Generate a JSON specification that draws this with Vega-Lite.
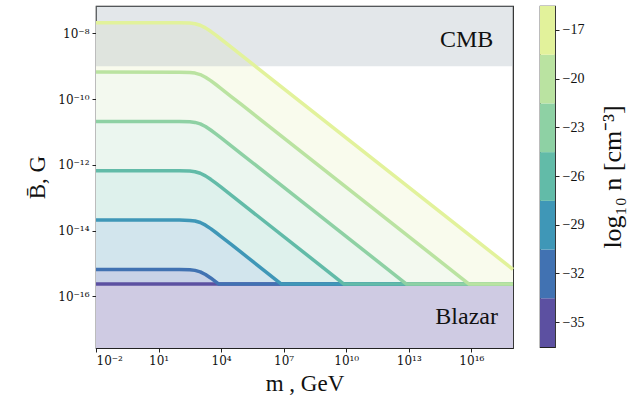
{
  "$schema": "https://vega.github.io/schema/vega-lite/v6.json",
  "padding": {"left": 26, "top": 5, "right": 5, "bottom": 5},
  "background": "white",
  "config": {
    "font": "Liberation Serif",
    "view": {"stroke": "#222", "strokeWidth": 1.2},
    "axis": {
      "grid": false, "domain": false, "tickColor": "#222", "tickSize": 4, "tickWidth": 1,
      "labelColor": "#111", "titleColor": "#111", "labelFontSize": 12, "titleFontSize": 23,
      "titleFontWeight": "normal", "labelFont": "DejaVu Serif", "titleFont": "Liberation Serif", "labelPadding": 3
    }
  },
  "datasets": {
    "regions": [
      {"region": "CMB", "m": 0.01, "m2": 1e18, "B": 1e-9, "B2": 6.76e-8},
      {"region": "Blazar", "m": 0.01, "m2": 1e18, "B": 2.69e-18, "B2": 2.371e-16}
    ],
    "labels": [
      {"m": 6e15, "B": 6.3e-9, "label": "CMB"},
      {"m": 6e15, "B": 2.3e-17, "label": "Blazar"}
    ],
    "levels": [{"n": -35}, {"n": -32}, {"n": -29}, {"n": -26}, {"n": -23}, {"n": -20}, {"n": -17}],
    "curves": [
      {"n": -35, "m": 0.01, "B": 2.371e-16}, {"n": -35, "m": 1e18, "B": 2.371e-16},
      {"n": -32, "m": 0.01, "B": 6.606e-16}, {"n": -32, "m": 100, "B": 6.590e-16}, {"n": -32, "m": 316.2, "B": 6.457e-16}, {"n": -32, "m": 562.3, "B": 6.166e-16}, {"n": -32, "m": 1000, "B": 5.559e-16}, {"n": -32, "m": 1778, "B": 4.623e-16}, {"n": -32, "m": 3162, "B": 3.630e-16}, {"n": -32, "m": 5623, "B": 2.767e-16}, {"n": -32, "m": 7762, "B": 2.371e-16}, {"n": -32, "m": 1e18, "B": 2.371e-16},
      {"n": -29, "m": 0.01, "B": 2.089e-14}, {"n": -29, "m": 100, "B": 2.084e-14}, {"n": -29, "m": 316.2, "B": 2.042e-14}, {"n": -29, "m": 562.3, "B": 1.950e-14}, {"n": -29, "m": 1000, "B": 1.758e-14}, {"n": -29, "m": 1778, "B": 1.462e-14}, {"n": -29, "m": 3162, "B": 1.148e-14}, {"n": -29, "m": 5623, "B": 8.750e-15}, {"n": -29, "m": 1e4, "B": 6.592e-15}, {"n": -29, "m": 31623, "B": 3.715e-15}, {"n": -29, "m": 1e5, "B": 2.089e-15}, {"n": -29, "m": 7.762e6, "B": 2.371e-16}, {"n": -29, "m": 1e18, "B": 2.371e-16},
      {"n": -26, "m": 0.01, "B": 6.606e-13}, {"n": -26, "m": 100, "B": 6.590e-13}, {"n": -26, "m": 316.2, "B": 6.457e-13}, {"n": -26, "m": 562.3, "B": 6.166e-13}, {"n": -26, "m": 1000, "B": 5.559e-13}, {"n": -26, "m": 1778, "B": 4.623e-13}, {"n": -26, "m": 3162, "B": 3.630e-13}, {"n": -26, "m": 5623, "B": 2.767e-13}, {"n": -26, "m": 1e4, "B": 2.085e-13}, {"n": -26, "m": 31623, "B": 1.175e-13}, {"n": -26, "m": 1e5, "B": 6.606e-14}, {"n": -26, "m": 7.762e9, "B": 2.371e-16}, {"n": -26, "m": 1e18, "B": 2.371e-16},
      {"n": -23, "m": 0.01, "B": 2.089e-11}, {"n": -23, "m": 100, "B": 2.084e-11}, {"n": -23, "m": 316.2, "B": 2.042e-11}, {"n": -23, "m": 562.3, "B": 1.950e-11}, {"n": -23, "m": 1000, "B": 1.758e-11}, {"n": -23, "m": 1778, "B": 1.462e-11}, {"n": -23, "m": 3162, "B": 1.148e-11}, {"n": -23, "m": 5623, "B": 8.750e-12}, {"n": -23, "m": 1e4, "B": 6.592e-12}, {"n": -23, "m": 31623, "B": 3.715e-12}, {"n": -23, "m": 1e5, "B": 2.089e-12}, {"n": -23, "m": 7.762e12, "B": 2.371e-16}, {"n": -23, "m": 1e18, "B": 2.371e-16},
      {"n": -20, "m": 0.01, "B": 6.606e-10}, {"n": -20, "m": 100, "B": 6.590e-10}, {"n": -20, "m": 316.2, "B": 6.457e-10}, {"n": -20, "m": 562.3, "B": 6.166e-10}, {"n": -20, "m": 1000, "B": 5.559e-10}, {"n": -20, "m": 1778, "B": 4.623e-10}, {"n": -20, "m": 3162, "B": 3.630e-10}, {"n": -20, "m": 5623, "B": 2.767e-10}, {"n": -20, "m": 1e4, "B": 2.085e-10}, {"n": -20, "m": 31623, "B": 1.175e-10}, {"n": -20, "m": 1e5, "B": 6.606e-11}, {"n": -20, "m": 7.762e15, "B": 2.371e-16}, {"n": -20, "m": 1e18, "B": 2.371e-16},
      {"n": -17, "m": 0.01, "B": 2.089e-8}, {"n": -17, "m": 100, "B": 2.084e-8}, {"n": -17, "m": 316.2, "B": 2.042e-8}, {"n": -17, "m": 562.3, "B": 1.950e-8}, {"n": -17, "m": 1000, "B": 1.758e-8}, {"n": -17, "m": 1778, "B": 1.462e-8}, {"n": -17, "m": 3162, "B": 1.148e-8}, {"n": -17, "m": 5623, "B": 8.750e-9}, {"n": -17, "m": 1e4, "B": 6.592e-9}, {"n": -17, "m": 31623, "B": 3.715e-9}, {"n": -17, "m": 1e5, "B": 2.089e-9}, {"n": -17, "m": 1e18, "B": 6.607e-16}
    ]
  },
  "spacing": 23,
  "hconcat": [
    {
      "width": 417,
      "height": 342,
      "encoding": {
        "x": {
          "field": "m", "type": "quantitative",
          "scale": {"type": "log", "domain": [0.01, 1e18], "nice": false},
          "axis": {
            "title": "m , GeV", "titlePadding": 6,
            "values": [0.01, 10, 10000, 1e7, 1e10, 1e13, 1e16],
            "labelExpr": "'10' + (round(log(datum.value)/LN10) < 0 ? '⁻' : '') + (abs(round(log(datum.value)/LN10)) >= 10 ? substring('⁰¹²³⁴⁵⁶⁷⁸⁹', floor(abs(round(log(datum.value)/LN10))/10), floor(abs(round(log(datum.value)/LN10))/10)+1) : '') + substring('⁰¹²³⁴⁵⁶⁷⁸⁹', abs(round(log(datum.value)/LN10))%10, abs(round(log(datum.value)/LN10))%10+1)"
          }
        },
        "y": {
          "field": "B", "type": "quantitative",
          "scale": {"type": "log", "domain": [2.69e-18, 6.76e-8], "nice": false},
          "axis": {
            "title": "B̄, G", "titlePadding": 8,
            "values": [1e-16, 1e-14, 1e-12, 1e-10, 1e-8],
            "labelExpr": "'10' + (round(log(datum.value)/LN10) < 0 ? '⁻' : '') + (abs(round(log(datum.value)/LN10)) >= 10 ? substring('⁰¹²³⁴⁵⁶⁷⁸⁹', floor(abs(round(log(datum.value)/LN10))/10), floor(abs(round(log(datum.value)/LN10))/10)+1) : '') + substring('⁰¹²³⁴⁵⁶⁷⁸⁹', abs(round(log(datum.value)/LN10))%10, abs(round(log(datum.value)/LN10))%10+1)"
          }
        }
      },
      "layer": [
        {
          "data": {"name": "curves"}, "transform": [{"filter": "datum.n == -17"}],
          "mark": {"type": "area", "color": "#f9fbed", "opacity": 1},
          "encoding": {"y2": {"datum": 2.371e-16}}
        },
        {
          "data": {"name": "curves"}, "transform": [{"filter": "datum.n == -20"}],
          "mark": {"type": "area", "color": "#f3f9ef", "opacity": 1},
          "encoding": {"y2": {"datum": 2.371e-16}}
        },
        {
          "data": {"name": "curves"}, "transform": [{"filter": "datum.n == -23"}],
          "mark": {"type": "area", "color": "#ebf6ef", "opacity": 1},
          "encoding": {"y2": {"datum": 2.371e-16}}
        },
        {
          "data": {"name": "curves"}, "transform": [{"filter": "datum.n == -26"}],
          "mark": {"type": "area", "color": "#def1ec", "opacity": 1},
          "encoding": {"y2": {"datum": 2.371e-16}}
        },
        {
          "data": {"name": "curves"}, "transform": [{"filter": "datum.n == -29"}],
          "mark": {"type": "area", "color": "#d2e5ed", "opacity": 1},
          "encoding": {"y2": {"datum": 2.371e-16}}
        },
        {
          "data": {"name": "curves"}, "transform": [{"filter": "datum.n == -32"}],
          "mark": {"type": "area", "color": "#c8d2e7", "opacity": 1},
          "encoding": {"y2": {"datum": 2.371e-16}}
        },
        {
          "data": {"name": "regions"},
          "transform": [{"filter": "datum.region == 'CMB'"}],
          "mark": {"type": "rect", "color": "#b0bac4", "opacity": 0.35},
          "encoding": {"x2": {"field": "m2"}, "y2": {"field": "B2"}}
        },
        {
          "data": {"name": "regions"},
          "transform": [{"filter": "datum.region == 'Blazar'"}],
          "mark": {"type": "rect", "color": "#cfcbe3", "opacity": 1},
          "encoding": {"x2": {"field": "m2"}, "y2": {"field": "B2"}}
        },
        {
          "data": {"name": "curves"},
          "mark": {"type": "line", "strokeWidth": 3.5, "strokeJoin": "round"},
          "encoding": {
            "color": {
              "field": "n", "type": "nominal",
              "scale": {"domain": [-35, -32, -29, -26, -23, -20, -17], "range": ["#5c50a1", "#4172b2", "#3f97b7", "#62bba8", "#8ed1a4", "#bae3a1", "#e2f29b"]},
              "legend": null
            }
          }
        },
        {
          "data": {"name": "labels"},
          "mark": {"type": "text", "fontSize": 24, "font": "Liberation Serif", "color": "#111", "align": "center", "baseline": "middle"},
          "encoding": {"text": {"field": "label"}}
        }
      ]
    },
    {
      "width": 15,
      "height": 341,
      "data": {"name": "levels"},
      "mark": {"type": "rect"},
      "encoding": {
        "y": {
          "field": "n", "type": "ordinal", "sort": "descending",
          "scale": {"paddingInner": 0, "paddingOuter": 0},
          "axis": {
            "orient": "right", "title": "log₁₀ n [cm⁻³]", "titleAngle": 270, "titleBaseline": "top",
            "titlePadding": 16, "labelAngle": 0, "labelFont": "Liberation Serif", "labelFontSize": 14, "titleFontSize": 26,
            "labelExpr": "replace(datum.label, '-', '−')"
          }
        },
        "color": {
          "field": "n", "type": "nominal",
          "scale": {"domain": [-35, -32, -29, -26, -23, -20, -17], "range": ["#5c50a1", "#4172b2", "#3f97b7", "#62bba8", "#8ed1a4", "#bae3a1", "#e2f29b"]},
          "legend": null
        }
      }
    }
  ]
}
